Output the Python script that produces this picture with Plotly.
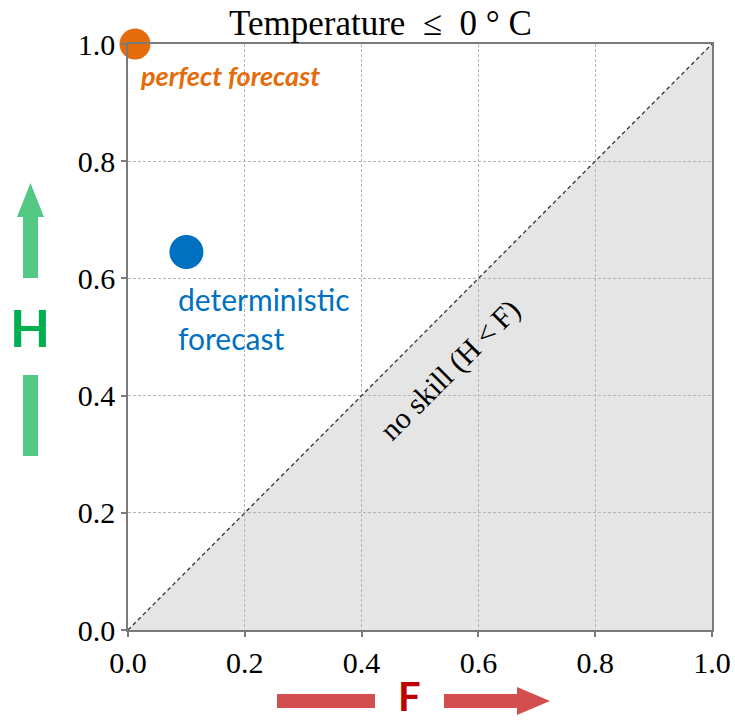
import plotly.graph_objects as go

# Forecast verification: hit rate H against false-alarm rate F
forecast_names = ["perfect forecast", "deterministic<br>forecast"]
false_alarm_rate = [0.012, 0.10]
hit_rate = [1.0, 0.645]
forecast_colors = ["#E46C0A", "#0070C0"]
marker_sizes = [31, 34]

tick_values = [0.0, 0.2, 0.4, 0.6, 0.8, 1.0]
tick_labels = ["0.0", "0.2", "0.4", "0.6", "0.8", "1.0"]

title_text = "Temperature\u00a0\u00a0\u2264\u00a0\u00a00\u00a0\u00b0\u00a0C"
no_skill_text = "no skill (H\u2009<\u2009F)"

W, H_PX = 735, 722
L, R, T, B = 128, 23, 44, 92
PW, PH = W - L - R, H_PX - T - B


def px(x):
    return (x - L) / PW


def py(y):
    return (H_PX - B - y) / PH


serif = "Liberation Serif, Times New Roman, serif"
sans = "Lato, Open Sans, sans-serif"

fig = go.Figure()

# no-skill diagonal H = F
fig.add_trace(go.Scatter(
    x=[0, 1], y=[0, 1], mode="lines",
    line=dict(color="#333333", width=1.3, dash="4px,3px"),
    hoverinfo="skip", showlegend=False,
))

# forecast points
fig.add_trace(go.Scatter(
    x=false_alarm_rate, y=hit_rate, mode="markers",
    marker=dict(color=forecast_colors, size=marker_sizes, opacity=1, line=dict(width=0)),
    cliponaxis=False, showlegend=False,
))

shapes = [
    # shaded region where H < F
    dict(type="path", xref="x", yref="y", path="M 0,0 L 1,0 L 1,1 Z",
         fillcolor="#E5E5E5", line=dict(width=0), layer="below"),
]

green = "#52C883"
red = "#D34F4F"


def poly(points):
    return "M " + " L ".join(f"{px(a):.5f},{py(b):.5f}" for a, b in points) + " Z"


# H axis arrow (upwards) and tail bar
shapes.append(dict(type="path", xref="paper", yref="paper",
                   path=poly([(23, 278), (23, 217), (17, 217), (30.5, 183),
                              (44, 217), (38, 217), (38, 278)]),
                   fillcolor=green, line=dict(width=0), layer="above"))
shapes.append(dict(type="path", xref="paper", yref="paper",
                   path=poly([(23, 375), (38, 375), (38, 456), (23, 456)]),
                   fillcolor=green, line=dict(width=0), layer="above"))
# F axis arrow (rightwards) and tail bar
shapes.append(dict(type="path", xref="paper", yref="paper",
                   path=poly([(277, 694), (375, 694), (375, 708), (277, 708)]),
                   fillcolor=red, line=dict(width=0), layer="above"))
shapes.append(dict(type="path", xref="paper", yref="paper",
                   path=poly([(444, 694), (517, 694), (517, 687), (550, 701),
                              (517, 715), (517, 708), (444, 708)]),
                   fillcolor=red, line=dict(width=0), layer="above"))

annotations = [
    dict(text=title_text, xref="paper", yref="paper", x=px(380), y=py(23),
         xanchor="center", yanchor="middle", showarrow=False,
         font=dict(family=serif, size=35, color="black")),
    dict(text=no_skill_text, xref="x", yref="y", x=0.551, y=0.444,
         textangle=-45, showarrow=False, xanchor="center", yanchor="middle",
         font=dict(family=serif, size=30, color="black")),
    dict(text="<b><i>" + forecast_names[0] + "</i></b>", xref="x", yref="y",
         x=false_alarm_rate[0], y=hit_rate[0], xanchor="left", yanchor="middle",
         xshift=3, yshift=-31, showarrow=False,
         font=dict(family=sans, size=27, color=forecast_colors[0])),
    dict(text=forecast_names[1], xref="x", yref="y", align="left",
         x=false_alarm_rate[1], y=hit_rate[1], xanchor="left", yanchor="middle",
         xshift=-10, yshift=-66, showarrow=False,
         font=dict(family=sans, size=30, color=forecast_colors[1])),
    dict(text="<b>H</b>", xref="paper", yref="paper", x=px(30), y=py(327),
         xanchor="center", yanchor="middle", showarrow=False,
         font=dict(family=sans, size=52, color="#00B050")),
    dict(text="<b>F</b>", xref="paper", yref="paper", x=px(409.5), y=py(722),
         xanchor="center", yanchor="bottom", showarrow=False,
         font=dict(family=sans, size=40, color="#C00000")),
]

axis_common = dict(
    range=[0, 1], tickvals=tick_values, ticktext=tick_labels,
    showgrid=True, gridcolor="#B5B5B5", gridwidth=1, griddash="3px,2px",
    zeroline=False, showline=True, mirror=True, linecolor="#7A7A7A", linewidth=1.5,
    ticks="outside", ticklen=5, tickwidth=1.5, tickcolor="#7A7A7A",
    tickfont=dict(family=serif, size=30, color="black"),
    fixedrange=True, automargin=False,
)

fig.update_layout(
    width=W, height=H_PX,
    margin=dict(l=L, r=R, t=T, b=B, pad=0, autoexpand=False),
    paper_bgcolor="white", plot_bgcolor="white",
    xaxis=dict(**axis_common),
    yaxis=dict(**axis_common),
    shapes=shapes, annotations=annotations,
    showlegend=False,
)

fig.write_html("out.html")
